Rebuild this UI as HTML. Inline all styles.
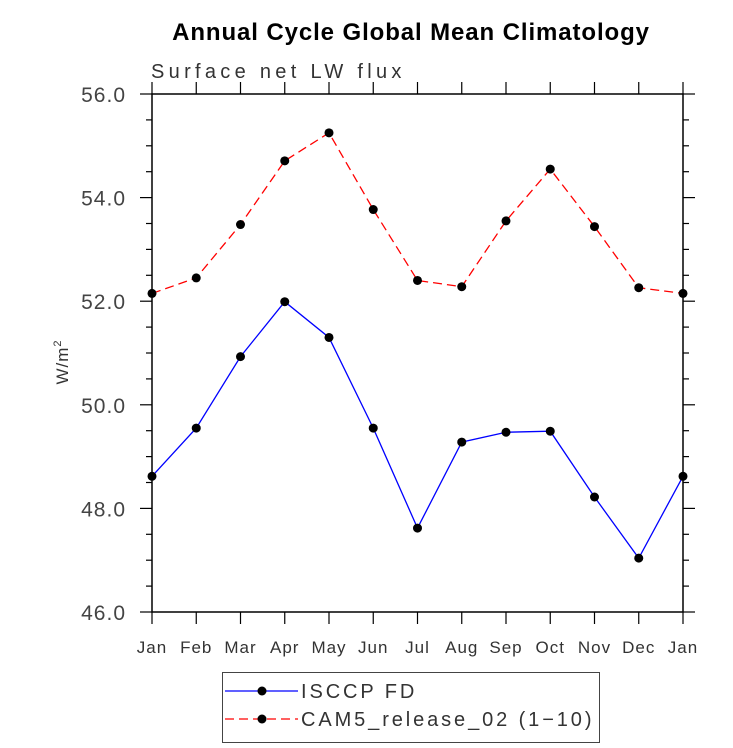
<!DOCTYPE html>
<html><head><meta charset="utf-8"><style>
body{margin:0;background:#fff;}
svg{display:block;font-family:"Liberation Sans",sans-serif;}
</style></head><body>
<svg id="chart" width="733" height="748" viewBox="0 0 733 748">
<text x="411" y="40" text-anchor="middle" font-size="24" font-weight="bold" fill="#000" letter-spacing="0.9">Annual Cycle Global Mean Climatology</text>
<text x="151" y="78" font-size="20" fill="#333" letter-spacing="4.3">Surface net LW flux</text>
<text transform="translate(68,362) rotate(-90)" text-anchor="middle" font-size="17" fill="#333" letter-spacing="1">W/m<tspan font-size="11" dy="-7">2</tspan></text>
<g id="axes"></g>
<g id="series"></g>
<g>
<rect x="222.5" y="672.5" width="377" height="70" fill="none" stroke="#444" stroke-width="1"/>
<line x1="225" y1="691" x2="298" y2="691" stroke="#0000ff" stroke-width="1.3"/>
<circle cx="262" cy="691" r="4.5" fill="#000"/>
<text x="301" y="698" font-size="20" fill="#333" letter-spacing="2.9">ISCCP FD</text>
<line x1="225" y1="719" x2="298" y2="719" stroke="#ff0000" stroke-width="1.3" stroke-dasharray="9,5"/>
<circle cx="262" cy="719" r="4.5" fill="#000"/>
<text x="301" y="726" font-size="20" fill="#333" letter-spacing="2.9">CAM5_release_02 (1−10)</text>
</g>
</svg>
<script>
const months=["Jan","Feb","Mar","Apr","May","Jun","Jul","Aug","Sep","Oct","Nov","Dec","Jan"];
const isccp=[48.62,49.55,50.93,51.99,51.30,49.55,47.62,49.28,49.47,49.49,48.22,47.04,48.62];
const cam5=[52.15,52.45,53.48,54.71,55.25,53.77,52.40,52.28,53.55,54.55,53.44,52.26,52.15];
const yTicks=[46,48,50,52,54,56];
const L=152,R=683,T=94,B=612,yMin=46,yMax=56;
const NS="http://www.w3.org/2000/svg";
const xs=i=>L+(R-L)*i/(months.length-1);
const ys=v=>B-(B-T)*(v-yMin)/(yMax-yMin);
const ax=document.getElementById('axes'),se=document.getElementById('series');
function mk(p,tag,at){const e=document.createElementNS(NS,tag);for(const k in at)e.setAttribute(k,at[k]);p.appendChild(e);return e;}
const frame=mk(ax,'rect',{x:L,y:T,width:R-L,height:B-T,fill:'none',stroke:'#000','stroke-width':1.5});


months.forEach((m,i)=>{
 const x=xs(i);
 mk(ax,'line',{x1:x,y1:B,x2:x,y2:B+12,stroke:'#000','stroke-width':1.2});
 mk(ax,'line',{x1:x,y1:T,x2:x,y2:T-12,stroke:'#000','stroke-width':1.2});
 const t=mk(ax,'text',{x:x,y:B+41,'text-anchor':'middle','font-size':17,fill:'#333','letter-spacing':1});
 t.textContent=m;
 
 
});
for(let v=yMin;v<=yMax+1e-9;v+=0.5){
 const y=ys(v),maj=Math.abs(v/2-Math.round(v/2))<1e-6,len=maj?12:6;
 mk(ax,'line',{x1:L,y1:y,x2:L-len,y2:y,stroke:'#000','stroke-width':1.2});
 mk(ax,'line',{x1:R,y1:y,x2:R+len,y2:y,stroke:'#000','stroke-width':1.2});
}
yTicks.forEach(v=>{
 const t=mk(ax,'text',{x:126,y:ys(v)+8,'text-anchor':'end','font-size':21,fill:'#444','letter-spacing':1});
 t.textContent=v.toFixed(1);
 
 
});
function draw(vals,color,dash,name){
 const pl=mk(se,'polyline',{points:vals.map((v,i)=>xs(i)+','+ys(v)).join(' '),fill:'none',stroke:color,'stroke-width':1.3,'stroke-dasharray':dash});
 
 
 vals.forEach((v,i)=>{
  const c=mk(se,'circle',{cx:xs(i),cy:ys(v),r:4.5,fill:'#000'});
  
  
 });
}
draw(cam5,'#ff0000','9,5','cam5');
draw(isccp,'#0000ff','none','isccp');
</script>
</body></html>
